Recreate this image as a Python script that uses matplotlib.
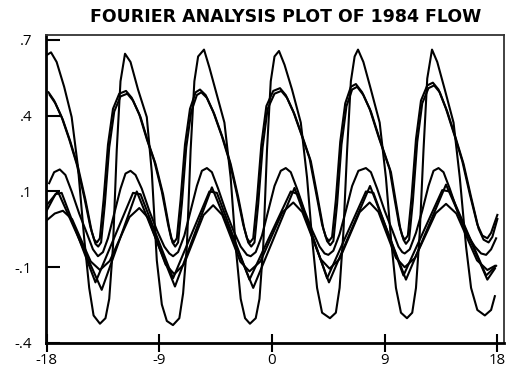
import numpy as np
import matplotlib
matplotlib.use("Agg")
import matplotlib.pyplot as plt
from matplotlib.transforms import ScaledTranslation

# curves, (x, y) pairs
curve_a = [(-18.0, 0.645), (-17.65, 0.655), (-17.2, 0.62), (-16.6, 0.53), (-16.0, 0.42),
           (-15.5, 0.24), (-15.0, -0.02), (-14.6, -0.2), (-14.25, -0.3), (-13.74, -0.33),
           (-13.3, -0.31), (-13.0, -0.24), (-12.7, -0.05), (-12.4, 0.3), (-12.1, 0.55),
           (-11.74, 0.65), (-11.3, 0.62), (-10.7, 0.52), (-10.0, 0.42), (-9.6, 0.22),
           (-9.2, -0.1), (-8.8, -0.26), (-8.4, -0.32), (-7.91, -0.335), (-7.4, -0.31),
           (-7.1, -0.22), (-6.8, -0.05), (-6.5, 0.3), (-6.2, 0.55), (-5.9, 0.64),
           (-5.43, 0.665), (-5.0, 0.6), (-4.4, 0.5), (-3.8, 0.4), (-3.3, 0.2),
           (-2.9, -0.05), (-2.5, -0.24), (-2.15, -0.31), (-1.76, -0.33), (-1.3, -0.31),
           (-1.0, -0.24), (-0.7, -0.05), (-0.4, 0.3), (-0.1, 0.55), (0.2, 0.64),
           (0.56, 0.66), (1.0, 0.61), (1.6, 0.52), (2.3, 0.4), (2.8, 0.2),
           (3.2, -0.02), (3.6, -0.2), (4.0, -0.29), (4.63, -0.31), (5.1, -0.29),
           (5.4, -0.2), (5.7, 0.0), (6.0, 0.3), (6.3, 0.55), (6.6, 0.64),
           (6.87, 0.665), (7.3, 0.62), (7.9, 0.52), (8.6, 0.4), (9.1, 0.2),
           (9.5, -0.02), (9.9, -0.2), (10.3, -0.29), (10.78, -0.31), (11.2, -0.29),
           (11.5, -0.2), (11.8, 0.0), (12.1, 0.3), (12.4, 0.56), (12.78, 0.665),
           (13.2, 0.62), (13.8, 0.52), (14.5, 0.4), (15.0, 0.2), (15.5, -0.05),
           (15.9, -0.2), (16.4, -0.28), (17.0, -0.3), (17.5, -0.28), (17.8, -0.23)]

curve_b1 = [(-17.85, 0.51), (-17.4, 0.48), (-16.8, 0.42), (-16.2, 0.34), (-15.6, 0.25),
            (-15.0, 0.13), (-14.5, 0.02), (-14.2, -0.025), (-13.98, -0.035), (-13.75, -0.02),
            (-13.45, 0.12), (-13.1, 0.32), (-12.7, 0.45), (-12.2, 0.505), (-11.66, 0.515),
            (-11.2, 0.49), (-10.6, 0.43), (-10.0, 0.34), (-9.4, 0.26), (-8.8, 0.15),
            (-8.3, 0.03), (-8.05, -0.02), (-7.83, -0.035), (-7.6, -0.02), (-7.3, 0.12),
            (-6.95, 0.32), (-6.55, 0.45), (-6.1, 0.51), (-5.75, 0.52), (-5.3, 0.5),
            (-4.7, 0.44), (-4.0, 0.35), (-3.4, 0.26), (-2.8, 0.14), (-2.3, 0.03),
            (-2.0, -0.02), (-1.76, -0.035), (-1.5, -0.02), (-1.2, 0.12), (-0.85, 0.32),
            (-0.45, 0.46), (0.1, 0.515), (0.64, 0.525), (1.1, 0.5), (1.7, 0.44),
            (2.4, 0.35), (3.0, 0.27), (3.5, 0.15), (4.0, 0.03), (4.3, -0.015),
            (4.55, -0.03), (4.8, -0.015), (5.1, 0.12), (5.45, 0.33), (5.85, 0.47),
            (6.3, 0.53), (6.7, 0.54), (7.2, 0.51), (7.8, 0.45), (8.5, 0.35),
            (9.4, 0.23), (9.8, 0.12), (10.15, 0.03), (10.4, -0.01), (10.6, -0.025),
            (10.85, -0.01), (11.15, 0.13), (11.5, 0.34), (11.9, 0.48), (12.4, 0.535),
            (12.85, 0.545), (13.3, 0.52), (13.9, 0.45), (14.6, 0.35), (15.2, 0.26),
            (15.8, 0.14), (16.4, 0.03), (16.8, -0.01), (17.2, -0.02), (17.5, 0.0),
            (18.0, 0.065)]

curve_b2 = [(-17.75, 0.50), (-17.3, 0.47), (-16.7, 0.41), (-16.1, 0.33), (-15.5, 0.24),
            (-14.9, 0.12), (-14.4, 0.005), (-14.1, -0.04), (-13.88, -0.05), (-13.65, -0.035),
            (-13.35, 0.105), (-13.0, 0.31), (-12.6, 0.44), (-12.1, 0.495), (-11.56, 0.505),
            (-11.1, 0.48), (-10.5, 0.42), (-9.9, 0.33), (-9.3, 0.25), (-8.7, 0.14),
            (-8.2, 0.015), (-7.95, -0.035), (-7.73, -0.05), (-7.5, -0.035), (-7.2, 0.105),
            (-6.85, 0.31), (-6.45, 0.44), (-6.0, 0.5), (-5.65, 0.51), (-5.2, 0.49),
            (-4.6, 0.43), (-3.9, 0.34), (-3.3, 0.25), (-2.7, 0.13), (-2.2, 0.015),
            (-1.9, -0.035), (-1.66, -0.05), (-1.4, -0.035), (-1.1, 0.105), (-0.75, 0.31),
            (-0.35, 0.45), (0.2, 0.505), (0.74, 0.515), (1.2, 0.49), (1.8, 0.43),
            (2.5, 0.34), (3.1, 0.26), (3.6, 0.14), (4.1, 0.015), (4.4, -0.03),
            (4.65, -0.045), (4.9, -0.03), (5.2, 0.105), (5.55, 0.32), (5.95, 0.46),
            (6.4, 0.52), (6.8, 0.53), (7.3, 0.5), (7.9, 0.44), (8.6, 0.34),
            (9.5, 0.22), (9.9, 0.11), (10.25, 0.015), (10.5, -0.025), (10.7, -0.04),
            (10.95, -0.025), (11.25, 0.115), (11.6, 0.33), (12.0, 0.47), (12.5, 0.525),
            (12.95, 0.535), (13.4, 0.51), (14.0, 0.44), (14.7, 0.34), (15.3, 0.25),
            (15.9, 0.13), (16.5, 0.015), (16.9, -0.025), (17.3, -0.035), (17.6, -0.015),
            (18.0, 0.05)]

curve_c = [(-17.8, 0.18), (-17.4, 0.22), (-16.95, 0.23), (-16.5, 0.21), (-16.0, 0.15),
           (-15.4, 0.07), (-14.8, 0.0), (-14.3, -0.06), (-13.9, -0.085), (-13.5, -0.07),
           (-13.1, -0.02), (-12.6, 0.07), (-12.1, 0.16), (-11.7, 0.215), (-11.3, 0.225),
           (-10.9, 0.21), (-10.4, 0.16), (-9.8, 0.08), (-9.2, 0.01), (-8.6, -0.05),
           (-8.2, -0.075), (-7.9, -0.085), (-7.5, -0.07), (-7.0, -0.01), (-6.5, 0.08),
           (-6.0, 0.17), (-5.6, 0.225), (-5.2, 0.235), (-4.8, 0.22), (-4.3, 0.16),
           (-3.7, 0.08), (-3.1, 0.01), (-2.5, -0.05), (-2.0, -0.08), (-1.7, -0.085),
           (-1.3, -0.07), (-0.8, -0.01), (-0.3, 0.08), (0.2, 0.17), (0.7, 0.225),
           (1.1, 0.235), (1.5, 0.22), (2.0, 0.16), (2.6, 0.08), (3.2, 0.01),
           (3.8, -0.05), (4.2, -0.075), (4.5, -0.08), (4.9, -0.065), (5.4, -0.005),
           (5.9, 0.08), (6.4, 0.17), (6.9, 0.225), (7.5, 0.235), (7.9, 0.22),
           (8.4, 0.16), (9.0, 0.08), (9.6, 0.01), (10.1, -0.05), (10.4, -0.07),
           (10.6, -0.075), (11.0, -0.06), (11.5, 0.0), (12.0, 0.08), (12.5, 0.17),
           (12.9, 0.225), (13.3, 0.235), (13.7, 0.22), (14.2, 0.16), (14.8, 0.08),
           (15.5, 0.0), (16.2, -0.05), (16.7, -0.075), (17.1, -0.08), (17.5, -0.06),
           (17.9, -0.02)]

curve_d = [(-18.0, 0.10), (-17.1, 0.15), (-13.6, -0.207), (-10.8, 0.15), (-7.75, -0.195),
           (-4.8, 0.165), (-1.5, -0.2), (1.8, 0.163), (4.55, -0.18), (7.83, 0.17),
           (10.7, -0.17), (13.9, 0.175), (17.2, -0.17), (17.8, -0.13)]

curve_f = [(-18.0, 0.08), (-17.3, 0.14), (-16.8, 0.145), (-14.1, -0.18), (-11.1, 0.145),
           (-10.5, 0.14), (-7.9, -0.165), (-5.0, 0.15), (-4.4, 0.145), (-1.8, -0.17),
           (1.5, 0.15), (2.1, 0.14), (4.4, -0.165), (7.5, 0.15), (8.1, 0.145),
           (10.5, -0.155), (13.6, 0.155), (14.2, 0.15), (17.1, -0.155), (17.9, -0.12)]

curve_e = [(-18.0, 0.045), (-17.35, 0.07), (-16.7, 0.08), (-15.96, 0.049), (-15.22, -0.028),
           (-14.48, -0.104), (-13.74, -0.135), (-12.955, -0.102), (-12.17, -0.023), (-11.385, 0.057),
           (-10.6, 0.09), (-9.9, 0.055), (-9.2, -0.03), (-8.5, -0.115), (-7.8, -0.15),
           (-7.025, -0.114), (-6.25, -0.025), (-5.475, 0.064), (-4.7, 0.10), (-3.975, 0.065),
           (-3.25, -0.02), (-2.525, -0.105), (-1.8, -0.14), (-0.925, -0.104), (-0.05, -0.015),
           (0.825, 0.074), (1.7, 0.11), (2.425, 0.075), (3.15, -0.01), (3.875, -0.095),
           (4.6, -0.13), (5.4, -0.095), (6.2, -0.01), (7.0, 0.075), (7.8, 0.11),
           (8.5, 0.076), (9.2, -0.008), (9.9, -0.091), (10.6, -0.125), (11.425, -0.091),
           (12.25, -0.01), (13.075, 0.071), (13.9, 0.105), (14.725, 0.07), (15.55, -0.015),
           (16.375, -0.10), (17.2, -0.135), (17.8, -0.12)]

curves = [curve_a, curve_b1, curve_b2, curve_c, curve_d, curve_f, curve_e]

x_ticks = [-18, -9, 0, 9, 18]
y_ticks = [-0.4, -0.125, 0.15, 0.425, 0.7]
y_tick_labels = ["-.4", "-.1", ".1", ".4", ".7"]
title = "FOURIER ANALYSIS PLOT OF 1984 FLOW"

fig = plt.figure(figsize=(5.13, 3.71), dpi=100)
ax = fig.add_axes([46 / 513, 28 / 371, 458 / 513, 308 / 371])

for c in curves:
    pts = np.array(c)
    ax.plot(pts[:, 0], pts[:, 1], color="black", lw=1.5, solid_joinstyle="round")

ax.set_xlim(-18.05, 18.53)
ax.set_ylim(-0.4, 0.718)
ax.set_xticks(x_ticks)
ax.set_xticklabels([str(t) for t in x_ticks])
ax.set_yticks(y_ticks)
ax.set_yticklabels(y_tick_labels)

for lab in ax.get_xticklabels() + ax.get_yticklabels():
    lab.set_fontfamily("Open Sans")
    lab.set_fontsize(10.8)

# end labels sit a little inside in the reference
xlabs = ax.get_xticklabels()
xlabs[0].set_transform(xlabs[0].get_transform() + ScaledTranslation(6 / 100, 0, fig.dpi_scale_trans))
xlabs[-1].set_transform(xlabs[-1].get_transform() + ScaledTranslation(4 / 100, 0, fig.dpi_scale_trans))

ax.tick_params(axis="x", direction="inout", length=13, width=1.5, pad=1)
ax.tick_params(axis="y", direction="in", length=10, width=1.5, pad=10)
for side in ["left", "bottom"]:
    ax.spines[side].set_linewidth(2)
for side in ["top", "right"]:
    ax.spines[side].set_linewidth(1.3)
    ax.spines[side].set_color("#333333")

fig.text(286 / 513, 1 - 17 / 371, title, ha="center", va="center",
         fontsize=12.5, fontweight="bold", family="DejaVu Sans")

fig.savefig("out.png", dpi=100)
